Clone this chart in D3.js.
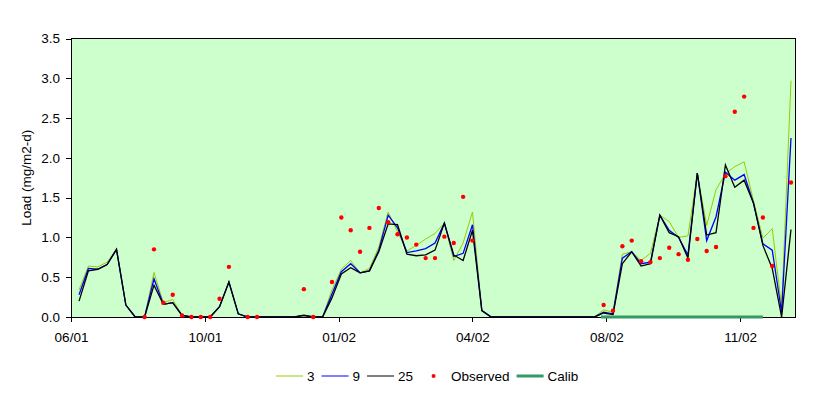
<!DOCTYPE html>
<html>
<head>
<meta charset="utf-8">
<script src="https://cdn.jsdelivr.net/npm/d3@7"></script>
<style>
  body { margin:0; background:#fff; }
  text { font-family:"Liberation Sans", Arial, sans-serif; }
</style>
</head>
<body>
<div id="chart"></div>
<script>
// weekly sample dates
const weeks = [
  "2001-07-04","2001-07-11","2001-07-18","2001-07-25",
  "2001-08-01","2001-08-08","2001-08-15","2001-08-22","2001-08-29",
  "2001-09-05","2001-09-12","2001-09-19","2001-09-26",
  "2001-10-03","2001-10-10","2001-10-17","2001-10-24","2001-10-31",
  "2001-11-07","2001-11-14","2001-11-21","2001-11-28",
  "2001-12-05","2001-12-12","2001-12-19","2001-12-26",
  "2002-01-02","2002-01-09","2002-01-16","2002-01-23","2002-01-30",
  "2002-02-06","2002-02-13","2002-02-20","2002-02-27",
  "2002-03-06","2002-03-13","2002-03-20","2002-03-27",
  "2002-04-03","2002-04-10","2002-04-17","2002-04-24",
  "2002-05-01","2002-05-08","2002-05-15","2002-05-22","2002-05-29",
  "2002-06-05","2002-06-12","2002-06-19","2002-06-26",
  "2002-07-03","2002-07-10","2002-07-17","2002-07-24","2002-07-31",
  "2002-08-07","2002-08-14","2002-08-21","2002-08-28",
  "2002-09-04","2002-09-11","2002-09-18","2002-09-25",
  "2002-10-02","2002-10-09","2002-10-16","2002-10-23","2002-10-30",
  "2002-11-06","2002-11-13","2002-11-20","2002-11-27",
  "2002-12-04","2002-12-11","2002-12-18"
];

const s3 = [
  .34,.64,.63,.69,.85,.15,0,0,.56,.18,.22,.02,0,0,0,.13,.44,.04,0,0,
  0,0,0,0,.03,0,0,.34,.60,.71,.555,.61,.88,1.32,1.07,.83,.90,.98,1.05,1.18,
  .71,.93,1.32,.08,0,0,0,0,0,0,0,0,0,0,0,0,.09,.06,.79,.82,
  .71,.80,1.28,1.20,1.00,1.02,1.81,1.15,1.60,1.80,1.89,1.95,1.46,.99,1.11,.12,2.97
];
const s9 = [
  .28,.61,.60,.66,.85,.15,0,0,.48,.16,.18,.02,0,0,0,.13,.44,.04,0,0,
  0,0,0,0,.02,0,0,.29,.57,.67,.555,.58,.84,1.28,1.12,.81,.83,.86,.93,1.18,
  .76,.80,1.16,.08,0,0,0,0,0,0,0,0,0,0,0,0,.06,.04,.74,.82,
  .67,.69,1.28,1.09,1.00,.78,1.81,.96,1.26,1.82,1.72,1.79,1.43,.92,.84,.06,2.25
];
const s25 = [
  .20,.58,.60,.66,.85,.15,0,0,.40,.16,.18,.02,0,0,0,.13,.44,.04,0,0,
  0,0,0,0,.02,0,0,.24,.54,.62,.555,.58,.82,1.17,1.16,.79,.77,.78,.84,1.18,
  .78,.71,1.09,.08,0,0,0,0,0,0,0,0,0,0,0,0,.05,.03,.67,.82,
  .64,.67,1.28,1.06,1.01,.74,1.81,1.03,1.06,1.91,1.63,1.72,1.43,.90,.61,0,1.10
];
const observed = [
  null,null,null,null,null,null,null,0,.85,.18,.28,.02,0,0,0,.23,.63,null,0,0,
  null,null,null,null,.35,0,null,.44,1.25,1.09,.82,1.12,1.37,1.19,1.04,1.00,.91,.74,.74,1.01,
  .93,1.51,.96,null,null,null,null,null,null,null,null,null,null,null,null,null,.15,.08,.89,.96,
  .70,.69,.74,.87,.79,.72,.98,.83,.88,1.77,2.58,2.77,1.12,1.25,.64,null,1.69
];

const calibDates = ["2002-07-29","2002-11-27"];
const calibValues = [0,0];

const xTickDates = ["2001-06-28","2001-10-06","2002-01-14","2002-04-24","2002-08-02","2002-11-10"];
const xTickLabels = ["06/01","10/01","01/02","04/02","08/02","11/02"];
const yTicks = [0,0.5,1,1.5,2,2.5,3,3.5];

const parse = d3.timeParse("%Y-%m-%d");
const dates = weeks.map(parse);

/* ---------------- DIMENSIONS ---------------- */
const width = 829, height = 396;
const plot = {left:71, right:795, top:38.5, bottom:317};

const svg = d3.select("#chart").append("svg")
  .attr("width",width).attr("height",height);

/* ---------------- SCALES ---------------- */
const x = d3.scaleTime()
  .domain([parse("2001-06-28"), parse("2002-12-21")])
  .range([plot.left, plot.right]);
const y = d3.scaleLinear().domain([0,3.5]).range([plot.bottom, plot.top]);

svg.append("rect")
  .attr("x",plot.left).attr("y",plot.top)
  .attr("width",plot.right-plot.left).attr("height",plot.bottom-plot.top)
  .attr("fill","#ccffcc").attr("stroke","#000").attr("stroke-width",1)
  .attr("shape-rendering","crispEdges");

/* ---------------- LINES ---------------- */
const series = [
  {name:"3", values:s3, color:"#99cc00", w:1},
  {name:"9", values:s9, color:"#0000ff", w:1.3},
  {name:"25", values:s25, color:"#000000", w:1.3}
];

const line = d3.line()
  .defined(d => d[1] != null)
  .x(d => x(d[0])).y(d => y(d[1]));

series.forEach(s => {
  svg.append("path")
    .datum(dates.map((d,i) => [d, s.values[i]]))
    .attr("fill","none").attr("stroke",s.color).attr("stroke-width",s.w)
    .attr("stroke-linejoin","miter")
    .attr("d",line);
});

/* ---------------- AXES ---------------- */
const xAxis = svg.append("g")
  .attr("transform",`translate(0,${plot.bottom})`)
  .call(d3.axisBottom(x)
    .tickValues(xTickDates.map(parse))
    .tickFormat((d,i) => xTickLabels[i])
    .tickSize(5).tickPadding(10).tickSizeOuter(0));

const yAxis = svg.append("g")
  .attr("transform",`translate(${plot.left},0)`)
  .call(d3.axisLeft(y)
    .tickValues(yTicks)
    .tickFormat(d3.format(".1f"))
    .tickSize(5).tickPadding(6).tickSizeOuter(0));

[xAxis,yAxis].forEach(g => {
  g.selectAll("path,line").attr("stroke","#000").attr("shape-rendering","crispEdges");
  g.selectAll("text").attr("fill","#000")
    .style("font-size","13.5px")
    .style("font-family","'Liberation Sans', Arial, sans-serif");
});

svg.append("text")
  .attr("transform",`translate(31,${(plot.top+plot.bottom)/2}) rotate(-90)`)
  .attr("text-anchor","middle")
  .style("font-size","13.5px")
  .text("Load (mg/m2-d)");

/* ---------------- OBSERVED + CALIB ---------------- */
svg.append("g").selectAll("circle")
  .data(dates.map((d,i) => [d, observed[i]]).filter(d => d[1] != null))
  .join("circle")
  .attr("cx",d => x(d[0])).attr("cy",d => y(d[1]))
  .attr("r",2.2).attr("fill","#ff0000");

svg.append("path")
  .datum(calibDates.map((d,i) => [parse(d), calibValues[i]]))
  .attr("fill","none").attr("stroke","#339966").attr("stroke-width",3)
  .attr("d",line);

/* ---------------- LEGEND ---------------- */
const legendItems = [
  {label:"3", type:"line", color:"#99cc00", w:1},
  {label:"9", type:"line", color:"#0000ff", w:1},
  {label:"25", type:"line", color:"#000000", w:1},
  {label:"Observed", type:"dot", color:"#ff0000"},
  {label:"Calib", type:"line", color:"#339966", w:3}
];

const legend = svg.append("g").attr("transform","translate(276,376)");
let lx = 0;
legendItems.forEach(it => {
  const g = legend.append("g").attr("transform",`translate(${lx},0)`);
  if (it.type === "line") {
    g.append("line").attr("x1",0).attr("x2",27).attr("y1",0).attr("y2",0)
      .attr("stroke",it.color).attr("stroke-width",it.w);
  } else {
    g.append("circle").attr("cx",13.5).attr("cy",0).attr("r",2).attr("fill",it.color);
  }
  const t = g.append("text").attr("x",31).attr("y",5)
    .style("font-size","13.5px").text(it.label);
  lx += 31 + t.node().getComputedTextLength() + 7;
});
</script>
</body>
</html>
